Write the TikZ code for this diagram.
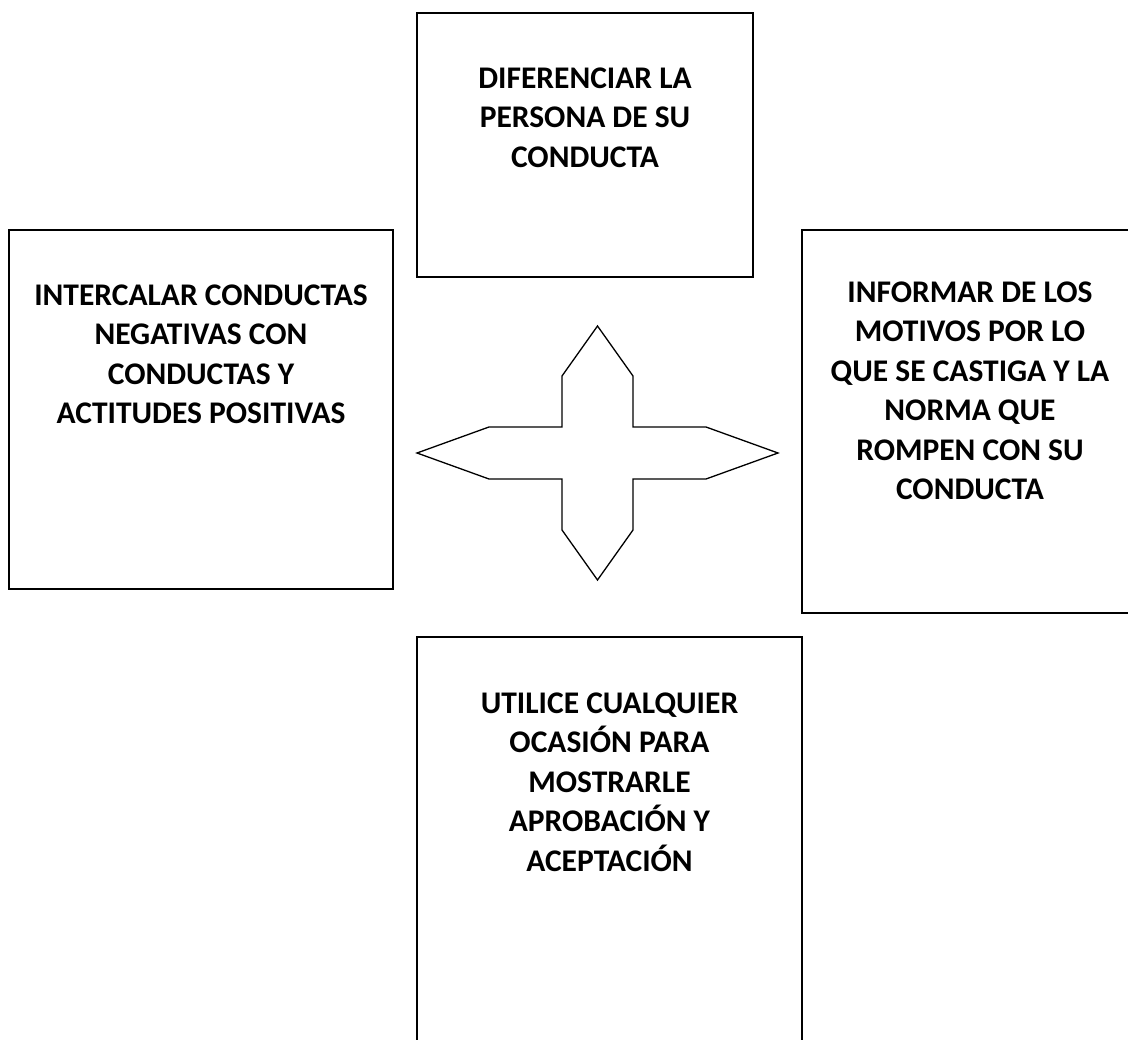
\documentclass[tikz,border=0pt]{standalone}
\usepackage{fontspec}
\setmainfont{Carlito}
\usepackage{tikz}
\usetikzlibrary{positioning}
\tikzstyle{box} = [rectangle, draw, line width=1.3pt, inner sep=0pt]
\tikzstyle{boxtext} = [align=center, inner sep=0pt, font=\bfseries\fontsize{31.5}{39.5}\selectfont]
\tikzstyle{crossline} = [line width=1.3pt, line join=miter]

\begin{document}
\begin{tikzpicture}[x=1pt, y=-1pt]
                \clip (0,0) rectangle (1128,1040);
                \fill[white] (0,0) rectangle (1128,1040);

                \node (diff) [box, minimum width=336pt, minimum height=264pt] at (585,145) {};
                \node (inter) [box, minimum width=384pt, minimum height=359pt] at (201,409.5) {};
                \node (info) [box, minimum width=336pt, minimum height=383pt] at (970,421.5) {};
                \node (util) [box, minimum width=385pt, minimum height=420pt] at (609.5,847) {};

                \node (difftxt) [boxtext, below = 55pt of diff.north] {DIFERENCIAR LA\\PERSONA DE SU\\CONDUCTA};
                \node (intertxt) [boxtext, below = 55pt of inter.north] {INTERCALAR CONDUCTAS\\NEGATIVAS CON\\CONDUCTAS Y\\ACTITUDES POSITIVAS};
                \node (infotxt) [boxtext, below = 52pt of info.north] {INFORMAR DE LOS\\MOTIVOS POR LO\\QUE SE CASTIGA Y LA\\NORMA QUE\\ROMPEN CON SU\\CONDUCTA};
                \node (utiltxt) [boxtext, below = 56pt of util.north] {UTILICE CUALQUIER\\OCASIÓN PARA\\MOSTRARLE\\APROBACIÓN Y\\ACEPTACIÓN};

                \draw [crossline] (597.5,326) -- (633,376) -- (633,427) -- (706,427) -- (778,453)
                    -- (706,479) -- (633,479) -- (633,530) -- (597.5,580) -- (562,530) -- (562,479)
                    -- (489,479) -- (417,453) -- (489,427) -- (562,427) -- (562,376) -- cycle;
            \end{tikzpicture}
\end{document}
